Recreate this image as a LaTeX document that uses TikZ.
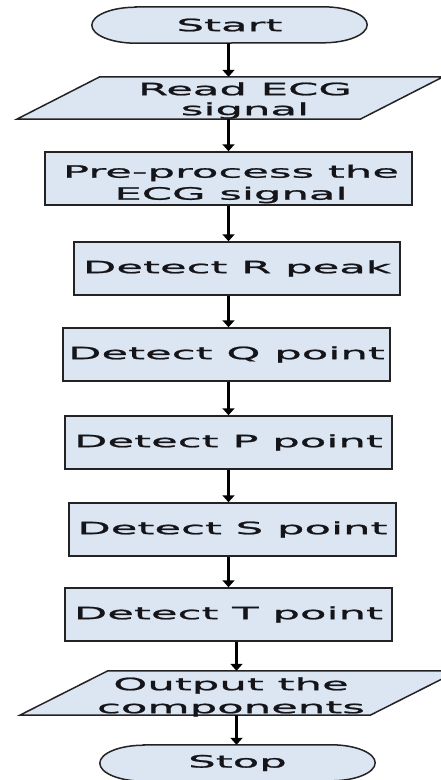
\documentclass[tikz,border=0pt]{standalone}
\usepackage{fontspec}
\newfontfamily\flowfont[FakeStretch=2.55,FakeBold=1.3]{DejaVu Sans}
\usetikzlibrary{arrows.meta,backgrounds}
\definecolor{boxfill}{RGB}{220,230,242}
\definecolor{boxline}{RGB}{35,35,35}
\definecolor{ink}{RGB}{20,20,25}
\tikzset{
  flowtext/.style={font={\flowfont\fontsize{17}{21}\selectfont}, text=ink, align=center},
  procbox/.style={flowtext, rectangle, draw=boxline, fill=boxfill, line width=1.5pt,
                  inner sep=0pt, minimum height=53pt},
  frame/.style={rectangle, draw=none, inner sep=0pt, flowtext},
  outline/.style={draw=boxline, fill=boxfill, line width=1.5pt},
  txt/.style={flowtext, inner sep=0pt},
  arr/.style={line width=3pt, draw=black, -{Triangle[width=12pt,length=7pt]}}
}
\begin{document}
\begin{tikzpicture}[x=1pt,y=1pt]
\useasboundingbox (0,0) rectangle (441,-780);

% terminal start
\node[frame, minimum width=275pt, minimum height=36pt] (start) at (229.5,-25) {Start};
% input
\node[frame, minimum width=343pt, minimum height=42pt] (read) at (230,-98) {};
\node[txt, font={\flowfont\fontsize{17}{20}\selectfont}] (readt) at (245,-100.5) {Read ECG\\signal};
% process boxes
\node[procbox, minimum width=367pt] (pre) at (228.5,-178.5) {};
\node[txt, font={\flowfont\fontsize{17}{22}\selectfont}] (pret) at (231,-184) {Pre-process the\\ECG signal};
\node[procbox, minimum width=326pt] (rp) at (237,-268.5) {Detect R peak};
\node[procbox, minimum width=327pt] (qp) at (226.5,-354.5) {Detect Q point};
\node[procbox, minimum width=327pt] (pp) at (228.5,-442.5) {Detect P point};
\node[procbox, minimum width=327pt] (sp) at (232.5,-529.5) {Detect S point};
\node[procbox, minimum width=327pt] (tp) at (228.5,-614.5) {Detect T point};
% output
\node[frame, minimum width=350pt, minimum height=44pt] (out) at (239,-693) {};
\node[txt, font={\flowfont\fontsize{17}{23}\selectfont}] (outt) at (231,-697) {Output the\\components};
% terminal stop
\node[frame, minimum width=275pt, minimum height=36pt] (stop) at (237.5,-763) {Stop};

\begin{pgfonlayer}{background}
  \fill[white] (0,0) rectangle (441,-780);
  \draw[outline] ([xshift=44pt]start.north west) -- ([xshift=-44pt]start.north east)
     arc[start angle=90, end angle=-90, x radius=44pt, y radius=18pt]
     -- ([xshift=44pt]start.south west)
     arc[start angle=270, end angle=90, x radius=44pt, y radius=18pt] -- cycle;
  \draw[outline] ([xshift=44pt]stop.north west) -- ([xshift=-44pt]stop.north east)
     arc[start angle=90, end angle=-90, x radius=44pt, y radius=18pt]
     -- ([xshift=44pt]stop.south west)
     arc[start angle=270, end angle=90, x radius=44pt, y radius=18pt] -- cycle;
  \draw[outline] ([xshift=41.5pt]read.north west) -- ([xshift=41.5pt]read.north east)
     -- ([xshift=-41.5pt]read.south east) -- ([xshift=-41.5pt]read.south west) -- cycle;
  \draw[outline] ([xshift=44pt]out.north west) -- ([xshift=44pt]out.north east)
     -- ([xshift=-44pt]out.south east) -- ([xshift=-44pt]out.south west) -- cycle;
\end{pgfonlayer}

\coordinate (colA) at (228.5,0);
\coordinate (colB) at (236.5,0);
\draw[arr] (start.south -| colA) -- (read.north -| colA);
\draw[arr] (read.south -| colA) -- (pre.north -| colA);
\draw[arr] (pre.south -| colA) -- (rp.north -| colA);
\draw[arr] (rp.south -| colA) -- (qp.north -| colA);
\draw[arr] (qp.south -| colA) -- (pp.north -| colA);
\draw[arr] (pp.south -| colA) -- (sp.north -| colA);
\draw[arr] (sp.south -| colA) -- (tp.north -| colA);
\draw[arr] (tp.south -| colB) -- (out.north -| colB);
\draw[arr] (out.south -| colB) -- (stop.north -| colB);
\end{tikzpicture}
\end{document}
